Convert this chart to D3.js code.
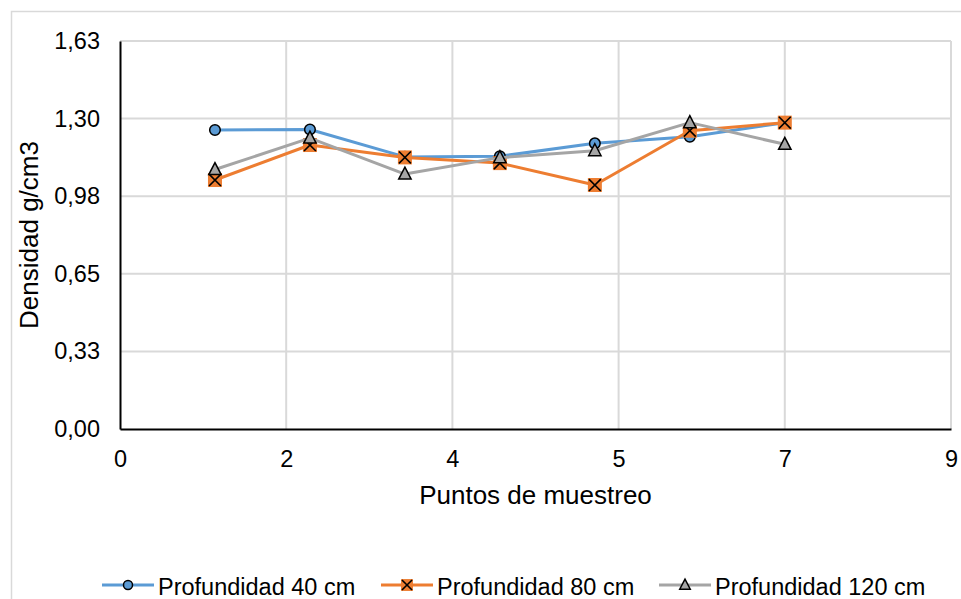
<!DOCTYPE html>
<html>
<head>
<meta charset="utf-8">
<script src="https://cdn.jsdelivr.net/npm/d3@7"></script>
<style>
  html, body { margin: 0; padding: 0; background: #fff; }
  svg { display: block; }
  text { font-family: "Liberation Sans", Arial, sans-serif; fill: #000; }
</style>
</head>
<body>
<svg id="chart" width="961" height="599"></svg>
<script>
// ---- data ----
const points = [1, 2, 3, 4, 5, 6, 7];
const seriesNames = ["Profundidad 40 cm", "Profundidad 80 cm", "Profundidad 120 cm"];
const values40 = [1.256, 1.258, 1.143, 1.146, 1.200, 1.228, 1.287];
const values80 = [1.046, 1.193, 1.141, 1.117, 1.025, 1.253, 1.287];
const values120 = [1.090, 1.222, 1.071, 1.140, 1.169, 1.287, 1.196];
const xTickValues = [0, 1.75, 3.5, 5.25, 7, 8.75];
const xTickLabels = ["0", "2", "4", "5", "7", "9"];
const yTickValues = [0, 0.326, 0.652, 0.978, 1.304, 1.63];
const yTickLabels = ["0,00", "0,33", "0,65", "0,98", "1,30", "1,63"];
const xTitle = "Puntos de muestreo";
const yTitle = "Densidad g/cm3";

// ---- setup ----
const colors = ["#5b9bd5", "#ed7d31", "#a5a5a5"];
const markers = ["circle", "x", "triangle"];
const allValues = [values40, values80, values120];

const svg = d3.select("#chart");
const plot = { left: 120, right: 951, top: 41, bottom: 429 };

const x = d3.scaleLinear().domain([0, 8.75]).range([plot.left, plot.right]);
const y = d3.scaleLinear().domain([0, 1.63]).range([plot.bottom, plot.top]);

// outer chart border
svg.append("rect")
  .attr("x", 11.5).attr("y", 11.5)
  .attr("width", 1000).attr("height", 1000)
  .attr("fill", "#fff").attr("stroke", "#d9d9d9").attr("stroke-width", 1.5);

// gridlines
const grid = svg.append("g");
grid.selectAll("line.h").data(yTickValues.slice(1)).join("line")
  .attr("x1", plot.left).attr("x2", plot.right)
  .attr("y1", d => y(d)).attr("y2", d => y(d))
  .attr("stroke", "#d9d9d9").attr("stroke-width", 2);
grid.selectAll("line.v").data(xTickValues.slice(1)).join("line")
  .attr("x1", d => x(d)).attr("x2", d => x(d))
  .attr("y1", plot.top).attr("y2", plot.bottom)
  .attr("stroke", "#d9d9d9").attr("stroke-width", 2);

// axes
const xAxis = d3.axisBottom(x).tickValues(xTickValues)
  .tickFormat((d, i) => xTickLabels[i]).tickSize(0).tickPadding(21);
const yAxis = d3.axisLeft(y).tickValues(yTickValues)
  .tickFormat((d, i) => yTickLabels[i]).tickSize(0).tickPadding(20);

const gx = svg.append("g").attr("transform", `translate(0,${plot.bottom})`).call(xAxis);
const gy = svg.append("g").attr("transform", `translate(${plot.left},0)`).call(yAxis);
[gx, gy].forEach(g => {
  g.select(".domain").attr("stroke", "#000").attr("stroke-width", 2);
  g.selectAll("text").style("font-family", '"Liberation Sans", Arial, sans-serif')
    .style("font-size", "23.5px").attr("fill", "#000");
});

// axis titles
svg.append("text")
  .attr("x", (plot.left + plot.right) / 2).attr("y", 504)
  .attr("text-anchor", "middle").style("font-size", "26px")
  .text(xTitle);
svg.append("text")
  .attr("transform", `translate(38,${(plot.top + plot.bottom) / 2}) rotate(-90)`)
  .attr("text-anchor", "middle").style("font-size", "26px")
  .text(yTitle);

// marker drawing
function drawMarker(g, type, color, s) {
  if (type === "circle") {
    g.append("circle").attr("r", 5.3 * s)
      .attr("fill", color).attr("stroke", "#000").attr("stroke-width", 1.5);
  } else if (type === "x") {
    const h = 7 * s;
    g.append("rect").attr("x", -h).attr("y", -h).attr("width", 2 * h).attr("height", 2 * h)
      .attr("fill", color);
    const k = h * 0.85;
    g.append("path").attr("d", `M${-k},${-k}L${k},${k}M${-k},${k}L${k},${-k}`)
      .attr("stroke", "#000").attr("stroke-width", 1.6).attr("fill", "none");
  } else {
    const w = 6.2 * s, t = 7 * s, b = 5 * s;
    g.append("path").attr("d", `M0,${-t}L${w},${b}L${-w},${b}Z`)
      .attr("fill", color).attr("stroke", "#000").attr("stroke-width", 1.5)
      .attr("stroke-linejoin", "miter");
  }
}

// series
const line = d3.line().x((d, i) => x(points[i])).y(d => y(d));
allValues.forEach((vals, si) => {
  const g = svg.append("g");
  g.append("path").datum(vals).attr("d", line)
    .attr("fill", "none").attr("stroke", colors[si]).attr("stroke-width", 3)
    .attr("stroke-linejoin", "round");
  g.selectAll("g.m").data(vals).join("g")
    .attr("transform", (d, i) => `translate(${x(points[i])},${y(d)})`)
    .each(function() { drawMarker(d3.select(this), markers[si], colors[si], 1); });
});

// legend
const legendStarts = [102, 381, 659];
const legendY = 585;
seriesNames.forEach((name, si) => {
  const g = svg.append("g").attr("transform", `translate(${legendStarts[si]},${legendY})`);
  g.append("line").attr("x1", 0).attr("x2", 52).attr("y1", 0).attr("y2", 0)
    .attr("stroke", colors[si]).attr("stroke-width", 3);
  const m = g.append("g").attr("transform", "translate(26,0)");
  drawMarker(m, markers[si], colors[si], 0.85);
  g.append("text").attr("x", 56).attr("y", 10).style("font-size", "23.5px").text(name);
});
</script>
</body>
</html>
